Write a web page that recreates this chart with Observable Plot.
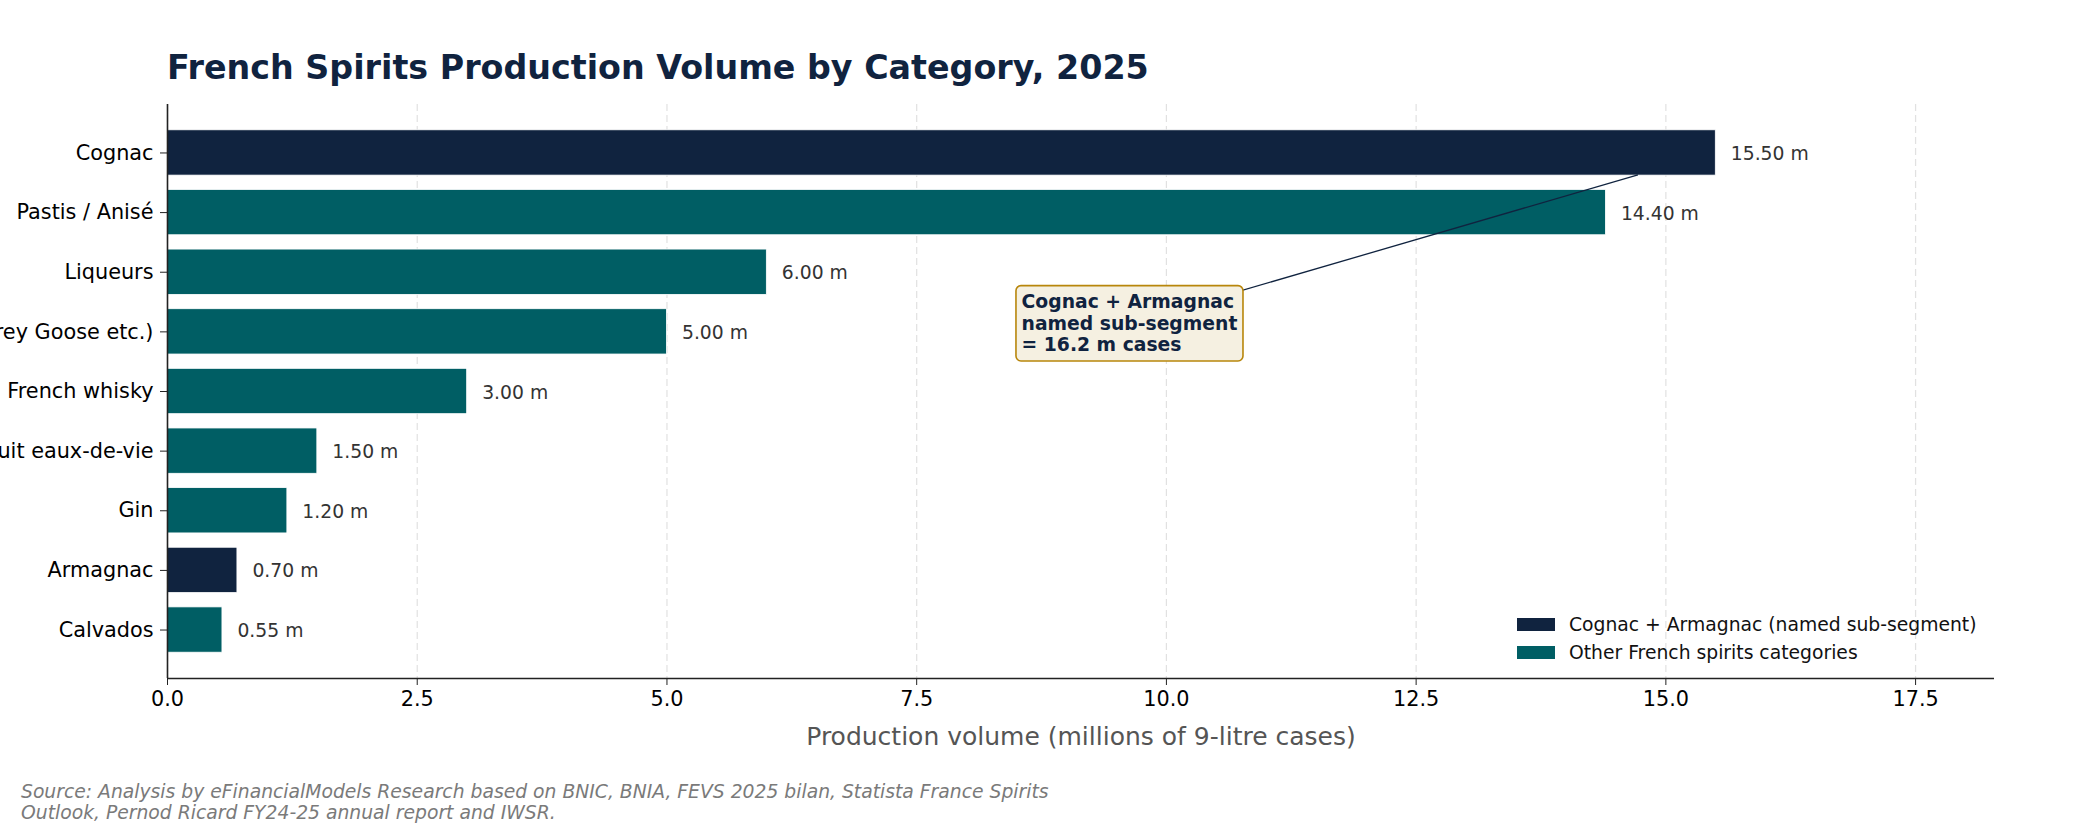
<!DOCTYPE html>
<html>
<head>
<meta charset="utf-8">
<script src="https://cdn.jsdelivr.net/npm/d3@7"></script>
<script src="https://cdn.jsdelivr.net/npm/@observablehq/plot@0.6"></script>
<style>
  html, body { margin: 0; padding: 0; background: white; }
  #wrap { position: relative; width: 2100px; height: 825px; overflow: hidden; font-family: "DejaVu Sans", sans-serif; }
  #title { height: 39px; padding-top: 51px; padding-left: 167px; font-size: 33.3px; line-height: 1; font-weight: bold; color: #10233f; white-space: nowrap; }
  #chart { height: 670px; }
  #chart svg { display: block; }
  #caption { padding-top: 21px; padding-left: 21px; font-size: 18.75px; line-height: 21px; font-style: italic; color: #7a7a7a; white-space: nowrap; }
  #legend { position: absolute; left: 1517px; top: 610px; font-size: 18.75px; color: #111; }
  .li { display: flex; align-items: center; height: 28px; }
  .sw { width: 38px; height: 13px; margin-right: 14px; }
</style>
</head>
<body>
<div id="wrap">
  <div id="title"></div>
  <div id="chart"></div>
  <div id="caption"></div>
  <div id="legend"></div>
</div>
<script>
// ---- data ----
const categories = ["Cognac", "Pastis / Anisé", "Liqueurs", "Vodka (Grey Goose etc.)", "French whisky", "Fruit eaux-de-vie", "Gin", "Armagnac", "Calvados"];
const values = [15.5, 14.4, 6.0, 5.0, 3.0, 1.5, 1.2, 0.7, 0.55];
const groups = ["named", "other", "other", "other", "other", "other", "other", "named", "other"];
const groupLabels = ["Cognac + Armagnac (named sub-segment)", "Other French spirits categories"];
const xTicks = [0, 2.5, 5, 7.5, 10, 12.5, 15, 17.5];
const titleText = "French Spirits Production Volume by Category, 2025";
const xLabel = "Production volume (millions of 9-litre cases)";
const captionLines = ["Source: Analysis by eFinancialModels Research based on BNIC, BNIA, FEVS 2025 bilan, Statista France Spirits", "Outlook, Pernod Ricard FY24-25 annual report and IWSR."];
const annotLines = ["Cognac + Armagnac", "named sub-segment", "= 16.2 m cases"];
const annotPos = [8.55, 2.85];
const annotTarget = [14.725, 0.375];

const navy = "#10233f", teal = "#005e64";
const colorOf = {named: navy, other: teal};

const rows = categories.map((c, i) => ({cat: c, i, value: values[i], group: groups[i]}));
const xMax = d3.max(values) * 1.18;
const yDomain = [-0.8125, categories.length - 1 + 0.8125];

document.getElementById("title").textContent = titleText;
document.getElementById("caption").innerHTML = captionLines.map(s => s.replace(/&/g, "&amp;")).join("<br>");
document.getElementById("legend").innerHTML = ["named", "other"].map((g, k) =>
  `<div class="li"><div class="sw" style="background:${colorOf[g]}"></div><span>${groupLabels[k]}</span></div>`).join("");

const plot = Plot.plot({
  width: 2100,
  height: 670,
  marginLeft: 167,
  marginRight: 106,
  marginTop: 14,
  marginBottom: 82,
  style: {fontFamily: "DejaVu Sans", fontSize: "20.8px", background: "white", color: "black"},
  x: {domain: [0, xMax]},
  y: {domain: yDomain, reverse: true},
  marks: [
    Plot.gridX({ticks: xTicks, stroke: "#d4d4d4", strokeOpacity: 0.7, strokeWidth: 1.2, strokeDasharray: "7,4"}),
    Plot.rect(rows, {x1: 0, x2: "value", y1: d => d.i - 0.38, y2: d => d.i + 0.38, fill: d => colorOf[d.group], stroke: "white", strokeWidth: 0.8}),
    Plot.text(rows, {x: "value", y: "i", text: d => d.value.toFixed(2) + " m", dx: 15, dy: 1, textAnchor: "start", fill: "#333", fontSize: 18.75}),
    Plot.axisY({ticks: d3.range(categories.length), tickFormat: i => categories[i], tickSize: 7, tickPadding: 7, fontSize: 20.8, label: null, stroke: "#222", fill: "black"}),
    Plot.axisX({ticks: xTicks, tickFormat: d3.format(".1f"), tickSize: 7, tickPadding: 6, fontSize: 20.8, label: null, stroke: "#222", fill: "black"}),
    Plot.ruleX([0], {stroke: "#222", strokeWidth: 1.6}),
    Plot.ruleY([yDomain[1]], {stroke: "#222", strokeWidth: 1.6}),
    Plot.text([xLabel], {frameAnchor: "bottom", dy: 58, lineAnchor: "middle", fill: "#555", fontSize: 25}),
    Plot.text([{x: annotPos[0], y: annotPos[1], t: annotLines.join("\n")}], {x: "x", y: "y", text: "t", textAnchor: "start", lineAnchor: "middle", lineHeight: 1.15, fontWeight: "bold", fontSize: 18.75, fill: navy})
  ]
});
document.getElementById("chart").appendChild(plot);

// annotation box + connector
const tNode = d3.select(plot).selectAll("text").filter(function () { return this.textContent.includes("named sub-segment"); }).node();
if (tNode) {
  const sr = plot.getBoundingClientRect();
  const r = tNode.getBoundingClientRect();
  const pad = 5.6;
  const x0 = r.left - sr.left, y0 = r.top - sr.top;
  const cx = x0 + r.width / 2, cy = y0 + r.height / 2;
  const xs = plot.scale("x"), ys = plot.scale("y");
  const ns = "http://www.w3.org/2000/svg";
  const line = document.createElementNS(ns, "line");
  line.setAttribute("x1", cx); line.setAttribute("y1", cy);
  line.setAttribute("x2", xs.apply(annotTarget[0])); line.setAttribute("y2", ys.apply(annotTarget[1]));
  line.setAttribute("stroke", navy); line.setAttribute("stroke-width", 1.3);
  const rect = document.createElementNS(ns, "rect");
  rect.setAttribute("x", x0 - pad); rect.setAttribute("y", y0 - pad);
  rect.setAttribute("width", r.width + 2 * pad); rect.setAttribute("height", r.height + 2 * pad);
  rect.setAttribute("rx", 5); rect.setAttribute("fill", "#f5f0e1");
  rect.setAttribute("stroke", "#b8860b"); rect.setAttribute("stroke-width", 1.6);
  const g = document.createElementNS(ns, "g");
  g.appendChild(line); g.appendChild(rect);
  const textGroup = tNode.closest("g");
  textGroup.parentNode.insertBefore(g, textGroup);
}
</script>
</body>
</html>
